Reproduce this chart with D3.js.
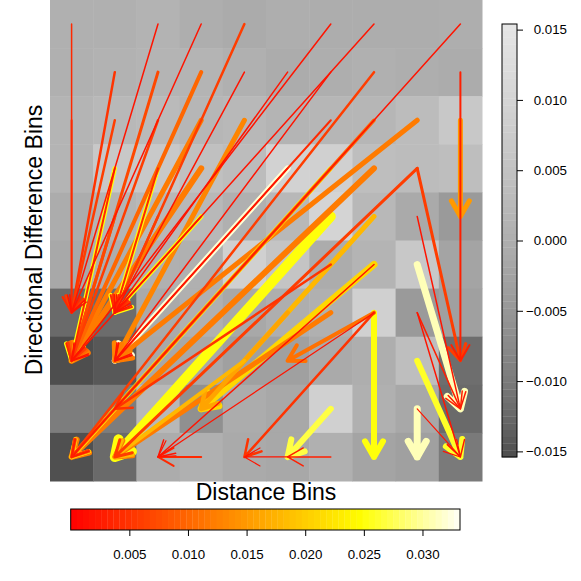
<!DOCTYPE html>
<html>
<head>
<meta charset="utf-8">
<script src="https://cdn.jsdelivr.net/npm/d3@7"></script>
<style>
  body { margin: 0; background: #fff; }
  svg { display: block; font-family: "Liberation Sans", Arial, sans-serif; }
</style>
</head>
<body>
<svg id="chart" width="581" height="581"></svg>
<script>
// bins on both axes
var distanceBins = d3.range(1, 11);
var directionBins = d3.range(1, 11);

// cell values, one row per direction bin, from bin 10 (top) down to bin 1
var cellValues = [
  [ 0.0004,  0.0004,  0.0011,  0.0000, -0.0007,  0.0000, -0.0002, -0.0002, -0.0002,  0.0000],
  [ 0.0004,  0.0009,  0.0014,  0.0014,  0.0004, -0.0005,  0.0000,  0.0004,  0.0000, -0.0005],
  [ 0.0014,  0.0024,  0.0029,  0.0019,  0.0024,  0.0014,  0.0019,  0.0019,  0.0034,  0.0066],
  [ 0.0014,  0.0066,  0.0066,  0.0044,  0.0034,  0.0094,  0.0088,  0.0039,  0.0034,  0.0039],
  [-0.0005,  0.0014,  0.0024,  0.0024,  0.0004,  0.0024,  0.0100,  0.0024, -0.0009, -0.0043],
  [-0.0014,  0.0000,  0.0004,  0.0004,  0.0088,  0.0055, -0.0005,  0.0014,  0.0066, -0.0023],
  [-0.0122, -0.0120, -0.0009,  0.0004, -0.0014,  0.0000,  0.0004,  0.0088, -0.0043, -0.0031],
  [-0.0153, -0.0143, -0.0014, -0.0014, -0.0031, -0.0031, -0.0009,  0.0000,  0.0039, -0.0117],
  [-0.0095, -0.0095,  0.0024, -0.0063, -0.0005, -0.0014,  0.0088,  0.0004, -0.0014, -0.0122],
  [-0.0151, -0.0122, -0.0005,  0.0004, -0.0009, -0.0014,  0.0004, -0.0023, -0.0031, -0.0100]
];

// arrows: [distance bin, direction bin] from -> to
var arrowFrom = [
  [1,10],[1,8],[3,10],[4,10],[5,10],[7,10],[8,10],[10,10],
  [2,9],[3,9],[4,9],[5,9],[6,9],[7,9],[8,9],[10,9],
  [2,8],[3,8],[4,8],[5,8],[7,8],[8,8],[9,8],[10,8],
  [2,7],[2,7],[3,7],[3,7],[4,7],[6,7],[6,7],[7,7],[7,7],[8,7],[9,7],[9,7],
  [2,6],[3,6],[4,6],[4,6],[7,6],[8,6],[9,6],
  [7,5],[8,5],[9,5],[8,5],
  [7,4],[6,4],[5,3],[8,4],[8,4],[8,4],[8,4],[9,4],[9,4],
  [9,3],[9,2],[9,2],[7,2],[4,1],[6,1],[7,1]
];
var arrowTo = [
  [1,4],[1,4],[1,4],[1,4],[2,4],[1,3],[1,3],[1,1],
  [1,4],[1,3],[1,3],[2,4],[2,4],[2,3],[1,1],[10,3],
  [1,4],[1,3],[1,3],[2,3],[2,3],[1,1],[2,3],[10,6],
  [1,3],[1,3],[2,4],[2,4],[1,3],[2,3],[2,3],[1,1],[1,1],[1,1],[2,1],[10,3],
  [1,3],[2,4],[2,4],[2,4],[2,1],[4,2],[10,2],
  [2,2],[4,2],[10,2],[3,1],
  [2,1],[4,2],[2,1],[8,1],[6,3],[5,1],[3,1],[10,2],[10,1],
  [10,1],[9,1],[10,1],[6,1],[3,1],[5,1],[6,1]
];
var arrowValue = [
  0.004, 0.005, 0.002, 0.002, 0.006, 0.002, 0.002, 0.002,
  0.005, 0.007, 0.010, 0.002, 0.002, 0.002, 0.006, 0.003,
  0.006, 0.006, 0.012, 0.013, 0.004, 0.010, 0.012, 0.015,
  0.025, 0.004, 0.025, 0.004, 0.012, 0.032, 0.002, 0.025, 0.003, 0.012, 0.006, 0.006,
  0.007, 0.006, 0.025, 0.004, 0.025, 0.018, 0.002,
  0.005, 0.021, 0.031, 0.002,
  0.012, 0.016, 0.018, 0.025, 0.011, 0.005, 0.002, 0.003, 0.002,
  0.026, 0.031, 0.002, 0.027, 0.004, 0.002, 0.003
];
var arrowWeight = [
  1.5, 2, 1.5, 1.5, 2.5, 1.5, 1.5, 1.5,
  2.5, 3, 4, 1.5, 1.5, 1.5, 2.5, 2,
  2.5, 2.5, 5, 5, 2, 3.5, 5, 5,
  4.5, 2, 4.5, 2, 6, 6, 1.5, 4.5, 1.5, 6, 3, 3,
  3, 2.5, 4.5, 2, 10, 5, 1.5,
  2.5, 7, 7, 1.5,
  5, 4.5, 4, 6, 4, 2.5, 1.2, 1.5, 1.5,
  6, 7, 1.2, 6, 2, 1.2, 1.5
];

var grayTicks = [-0.015, -0.010, -0.005, 0.000, 0.005, 0.010, 0.015];
var heatTicks = [0.005, 0.010, 0.015, 0.020, 0.025, 0.030];
var grayDomain = [-0.0154, 0.0154];
var heatDomain = [0, 0.0332];

var svg = d3.select('#chart');

var x = d3.scaleBand().domain(distanceBins).range([50, 482]);
var y = d3.scaleBand().domain(directionBins.slice().reverse()).range([0, 481]);

// gray.colors(start = 0.3, end = 0.9, gamma = 2.2)
function grayInterp(t) {
  var l = Math.pow(Math.pow(0.3, 2.2) + t * (Math.pow(0.9, 2.2) - Math.pow(0.3, 2.2)), 1 / 2.2) * 255;
  return d3.rgb(l, l, l).toString();
}
// heat.colors: red -> yellow by hue, then yellow -> white by saturation
function heatInterp(t) {
  if (t <= 0.75) return d3.hsl(60 * t / 0.75, 1, 0.5).toString();
  var s = 0.97 - (t - 0.75) / 0.25 * 0.94;
  return d3.rgb(255, 255, 255 * (1 - s)).toString();
}
var grayColor = d3.scaleSequential(grayInterp).domain(grayDomain).clamp(true);
var heatColor = d3.scaleSequential(heatInterp).domain(heatDomain).clamp(true);
var lineWidth = d3.scaleLinear().domain([0, 10]).range([0, 10]);

// heat map cells
var cells = [];
cellValues.forEach(function (row, i) {
  row.forEach(function (v, j) {
    cells.push({ dx: distanceBins[j], dd: directionBins[directionBins.length - 1 - i], v: v });
  });
});
svg.append('g').selectAll('rect').data(cells).join('rect')
  .attr('x', function (d) { return x(d.dx); })
  .attr('y', function (d) { return y(d.dd); })
  .attr('width', x.bandwidth() + 0.5)
  .attr('height', y.bandwidth() + 0.5)
  .attr('fill', function (d) { return grayColor(d.v); });

// arrows, thick ones first
var headLen = 18;
var arrows = arrowFrom.map(function (f, i) {
  return { from: f, to: arrowTo[i], v: arrowValue[i], w: arrowWeight[i] };
}).sort(function (a, b) { return b.w - a.w; });

function arrowPath(d) {
  var x0 = x(d.from[0]) + x.bandwidth() / 2, y0 = y(d.from[1]) + y.bandwidth() / 2;
  var x1 = x(d.to[0]) + x.bandwidth() / 2, y1 = y(d.to[1]) + y.bandwidth() / 2;
  var a = Math.atan2(y1 - y0, x1 - x0);
  var h1x = x1 - headLen * Math.cos(a - Math.PI / 6), h1y = y1 - headLen * Math.sin(a - Math.PI / 6);
  var h2x = x1 - headLen * Math.cos(a + Math.PI / 6), h2y = y1 - headLen * Math.sin(a + Math.PI / 6);
  return 'M' + x0 + ',' + y0 + 'L' + x1 + ',' + y1 +
    'M' + h1x + ',' + h1y + 'L' + x1 + ',' + y1 + 'L' + h2x + ',' + h2y;
}

svg.append('g').selectAll('path').data(arrows).join('path')
  .attr('d', arrowPath)
  .attr('fill', 'none')
  .attr('stroke', function (d) { return heatColor(d.v); })
  .attr('stroke-width', function (d) { return lineWidth(d.w); })
  .attr('stroke-linecap', 'round')
  .attr('stroke-linejoin', 'round');

// axis titles
svg.append('text').attr('x', 266).attr('y', 500)
  .attr('text-anchor', 'middle').attr('font-size', 23).text('Distance Bins');
svg.append('text').attr('transform', 'translate(42,240) rotate(-90)')
  .attr('text-anchor', 'middle').attr('font-size', 23).text('Directional Difference Bins');

// vertical gray legend
var gy = d3.scaleLinear().domain(grayDomain).range([457, 24]);
var gStep = (grayDomain[1] - grayDomain[0]) / 64;
var gSteps = d3.range(64).map(function (i) { return grayDomain[0] + gStep * (i + 0.5); });
var gLeg = svg.append('g');
gLeg.selectAll('rect').data(gSteps).join('rect')
  .attr('x', 502).attr('width', 15)
  .attr('y', function (d) { return gy(d + gStep / 2); })
  .attr('height', function (d) { return gy(d - gStep / 2) - gy(d + gStep / 2) + 0.3; })
  .attr('fill', function (d) { return grayColor(d); });
gLeg.append('rect').attr('x', 502).attr('y', 24).attr('width', 15).attr('height', 433)
  .attr('fill', 'none').attr('stroke', '#000').attr('stroke-width', 1);
gLeg.append('g').attr('transform', 'translate(517,0)')
  .call(d3.axisRight(gy).tickValues(grayTicks).tickSize(6).tickPadding(44)
    .tickFormat(function (d) { return d3.format('.3f')(d).replace('-', '\u2212'); }))
  .call(function (g) {
    g.select('.domain').remove();
    g.selectAll('text').attr('text-anchor', 'end').attr('font-size', 13.3)
      .attr('font-family', '"Liberation Sans", Arial, sans-serif');
  });

// horizontal heat legend
var hx = d3.scaleLinear().domain(heatDomain).range([70.7, 460]);
var hStep = (heatDomain[1] - heatDomain[0]) / 64;
var hSteps = d3.range(64).map(function (i) { return heatDomain[0] + hStep * (i + 0.5); });
var hLeg = svg.append('g');
hLeg.selectAll('rect').data(hSteps).join('rect')
  .attr('y', 509).attr('height', 21)
  .attr('x', function (d) { return hx(d - hStep / 2); })
  .attr('width', function (d) { return hx(d + hStep / 2) - hx(d - hStep / 2) + 0.3; })
  .attr('fill', function (d) { return heatColor(d); });
hLeg.append('rect').attr('x', 70.7).attr('y', 509).attr('width', 389.3).attr('height', 21)
  .attr('fill', 'none').attr('stroke', '#000').attr('stroke-width', 1);
hLeg.append('g').attr('transform', 'translate(0,530)')
  .call(d3.axisBottom(hx).tickValues(heatTicks).tickSize(6).tickPadding(14)
    .tickFormat(d3.format('.3f')))
  .call(function (g) {
    g.select('.domain').remove();
    g.selectAll('text').attr('font-size', 13.3)
      .attr('font-family', '"Liberation Sans", Arial, sans-serif');
  });
</script>
</body>
</html>
